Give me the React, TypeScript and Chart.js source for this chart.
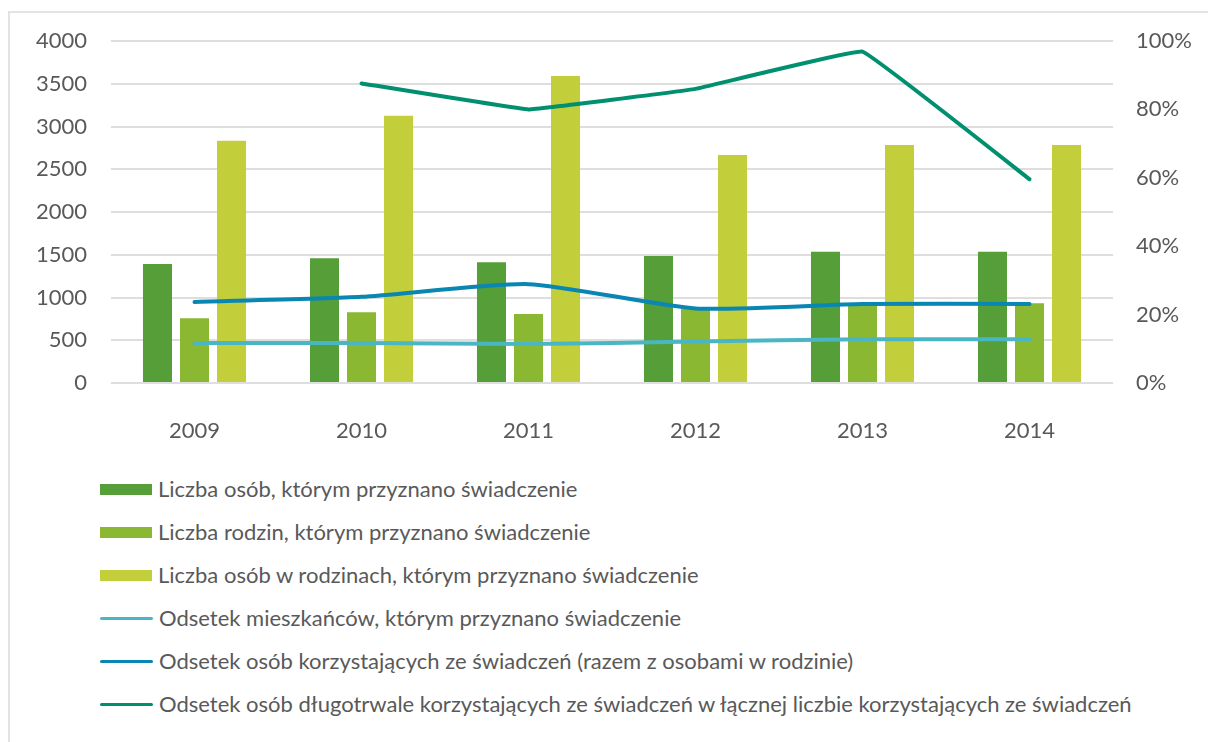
import React, { useEffect, useRef } from "react";
import { Chart, registerables } from "chart.js";

Chart.register(...registerables);

const years = ["2009", "2010", "2011", "2012", "2013", "2014"];

const osoby = [1392, 1458, 1412, 1485, 1536, 1536];
const rodziny = [756, 827, 807, 870, 915, 932];
const osobyWRodzinach = [2834, 3126, 3591, 2667, 2784, 2784];

const odsetekMieszkancow = [11.7, 11.7, 11.4, 12.1, 12.8, 12.8];
const odsetekKorzystajacych = [23.7, 25.2, 28.9, 21.8, 23.1, 23.1];
const odsetekDlugotrwale = [null, 87.6, 80.0, 86.0, 96.9, 59.6];

const leftTicks = [0, 500, 1000, 1500, 2000, 2500, 3000, 3500, 4000];
const rightTicks = [0, 20, 40, 60, 80, 100];

const labels = [
  "Liczba osób, którym przyznano świadczenie",
  "Liczba rodzin, którym przyznano świadczenie",
  "Liczba osób w rodzinach, którym przyznano świadczenie",
  "Odsetek mieszkańców, którym przyznano świadczenie",
  "Odsetek osób korzystających ze świadczeń (razem z osobami w rodzinie)",
  "Odsetek osób długotrwale korzystających ze świadczeń w łącznej liczbie korzystających ze świadczeń",
];

const colors = ["#559E38", "#8BB833", "#C2CE3A", "#4BB6C3", "#0A86B3", "#00906F"];
const kinds = ["bar", "bar", "bar", "line", "line", "line"];

const FONT = "Lato, 'Open Sans', sans-serif";
const TEXT = "#595959";

export default function App() {
  const ref = useRef<HTMLCanvasElement | null>(null);

  useEffect(() => {
    const canvas = ref.current;
    if (!canvas) return;
    const barSets = [osoby, rodziny, osobyWRodzinach].map((d, i) => ({
      type: "bar" as const,
      label: labels[i],
      data: d,
      backgroundColor: colors[i],
      borderWidth: 0,
      yAxisID: "y",
      order: 1,
      categoryPercentage: 0.665,
      barPercentage: 0.784,
    }));
    const lineSets = [odsetekMieszkancow, odsetekKorzystajacych, odsetekDlugotrwale].map((d, j) => ({
      type: "line" as const,
      label: labels[3 + j],
      data: d,
      borderColor: colors[3 + j],
      backgroundColor: colors[3 + j],
      borderWidth: 4,
      pointRadius: 0,
      tension: j === 2 ? 0.05 : 0.2,
      yAxisID: "y1",
      order: 0,
      spanGaps: false,
      borderCapStyle: "round" as const,
      borderJoinStyle: "round" as const,
    }));
    const chart = new Chart(canvas, {
      type: "bar",
      data: { labels: years, datasets: [...barSets, ...lineSets] as any },
      options: {
        responsive: false,
        animation: false,
        layout: { padding: { top: 41, left: 0, right: 0, bottom: 0 } },
        plugins: { legend: { display: false }, tooltip: { enabled: false } },
        scales: {
          x: {
            grid: { display: false },
            border: { display: false },
            ticks: { color: TEXT, font: { family: FONT, size: 22 }, padding: 27 },
            afterFit: (s: any) => {
              s.height = 445 - 383;
            },
          },
          y: {
            position: "left",
            min: 0,
            max: 4000,
            afterBuildTicks: (s: any) => {
              s.ticks = leftTicks.map((v) => ({ value: v }));
            },
            grid: { color: "#dedede", lineWidth: 2, drawTicks: false },
            border: { display: false },
            ticks: {
              color: TEXT,
              font: { family: FONT, size: 22 },
              padding: 24,
              callback: (v: any) => String(v),
            },
            afterFit: (s: any) => {
              s.width = 111;
            },
          },
          y1: {
            position: "right",
            min: 0,
            max: 100,
            afterBuildTicks: (s: any) => {
              s.ticks = rightTicks.map((v) => ({ value: v }));
            },
            grid: { display: false, drawTicks: false },
            border: { display: false },
            ticks: {
              color: TEXT,
              font: { family: FONT, size: 22 },
              padding: 23,
              callback: (v: any) => v + "%",
            },
            afterFit: (s: any) => {
              s.width = 1208 - 1113;
            },
          },
        },
      },
    });
    return () => chart.destroy();
  }, []);

  return (
    <div
      style={{
        position: "absolute",
        left: 0,
        top: 0,
        width: 1208,
        height: 742,
        background: "#fff",
        overflow: "hidden",
        fontFamily: FONT,
      }}
    >
      <div
        style={{
          position: "absolute",
          left: 8,
          top: 11,
          width: 1300,
          height: 800,
          borderLeft: "2px solid #e3e3e3",
          borderTop: "2px solid #e3e3e3",
        }}
      />
      <canvas
        ref={ref}
        width={1208}
        height={445}
        style={{ position: "absolute", left: 0, top: 0, width: 1208, height: 445 }}
      />
      {labels.map((lab, i) => {
        const cy = 489 + i * 43;
        return (
          <div key={i} style={{ position: "absolute", left: 100, top: cy - 15, height: 30, display: "flex", alignItems: "center" }}>
            {kinds[i] === "bar" ? (
              <div style={{ width: 52, height: 11, background: colors[i] }} />
            ) : (
              <div style={{ width: 53, height: 3, background: colors[i], borderRadius: 2 }} />
            )}
            <span style={{ marginLeft: 6, fontSize: 22, color: TEXT, whiteSpace: "nowrap", lineHeight: "30px" }}>{lab}</span>
          </div>
        );
      })}
    </div>
  );
}
